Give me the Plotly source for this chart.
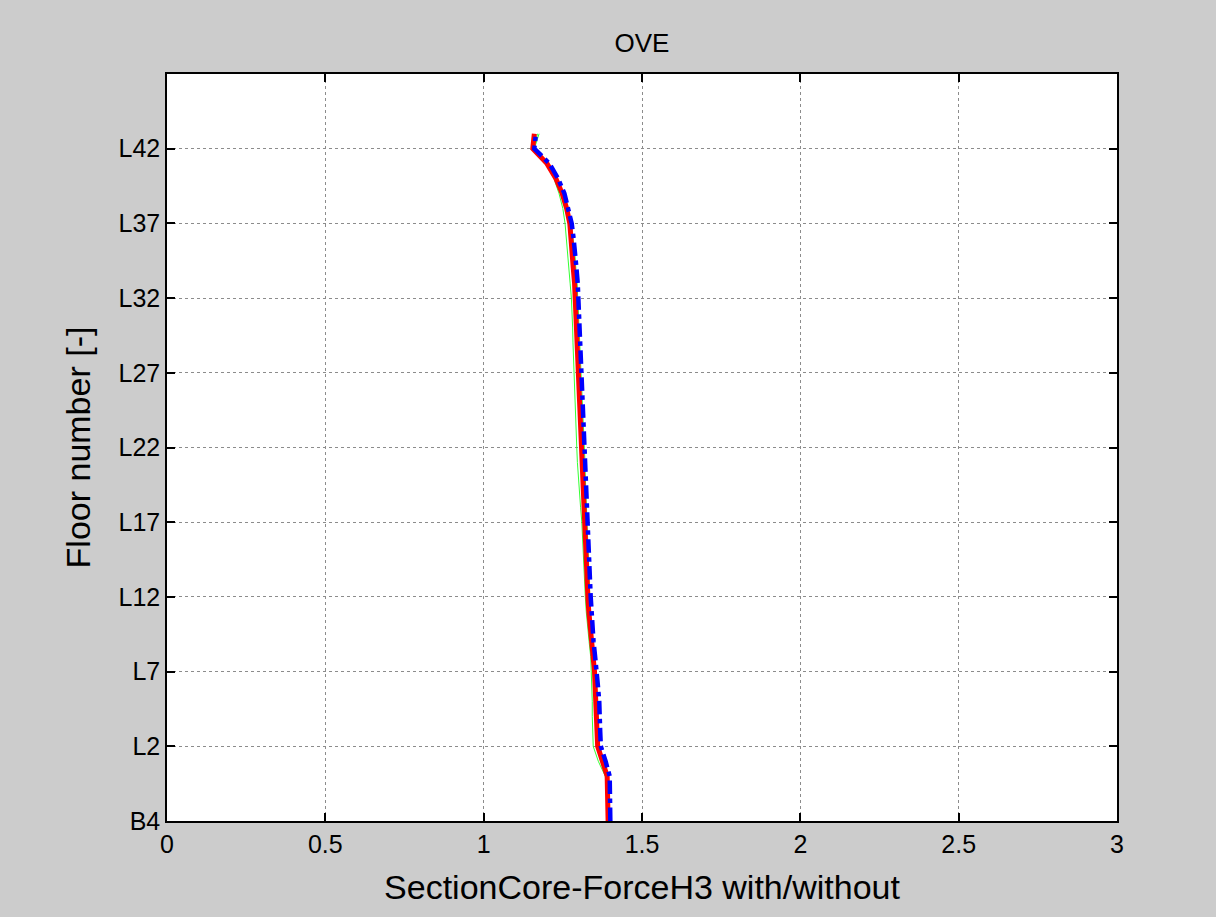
import plotly.graph_objects as go

# floor index 0 = B4 ... 46 = top
floor_idx = list(range(47))
tick_vals = [0, 5, 10, 15, 20, 25, 30, 35, 40, 45]
tick_text = ["B4", "L2", "L7", "L12", "L17", "L22", "L27", "L32", "L37", "L42"]

red_vals = [1.393, 1.393, 1.393, 1.390, 1.375, 1.360, 1.358, 1.357, 1.356, 1.352,
            1.350, 1.345, 1.340, 1.335, 1.332, 1.329, 1.327, 1.325, 1.323, 1.321,
            1.320, 1.318, 1.316, 1.314, 1.312, 1.310, 1.308, 1.307, 1.305, 1.303,
            1.301, 1.298, 1.296, 1.294, 1.292, 1.290, 1.287, 1.283, 1.280, 1.276,
            1.272, 1.262, 1.248, 1.228, 1.200, 1.155, 1.160]

blue_vals = [1.400, 1.400, 1.400, 1.398, 1.385, 1.370, 1.368, 1.367, 1.365, 1.361,
             1.358, 1.352, 1.347, 1.343, 1.340, 1.338, 1.336, 1.334, 1.332, 1.331,
             1.330, 1.328, 1.326, 1.324, 1.322, 1.320, 1.318, 1.317, 1.315, 1.313,
             1.311, 1.309, 1.307, 1.305, 1.303, 1.300, 1.297, 1.293, 1.290, 1.284,
             1.278, 1.268, 1.255, 1.235, 1.208, 1.160, 1.165]

green_vals = [1.390, 1.390, 1.390, 1.384, 1.362, 1.346, 1.344, 1.343, 1.343, 1.342,
              1.341, 1.338, 1.333, 1.328, 1.324, 1.321, 1.319, 1.317, 1.315, 1.312,
              1.310, 1.306, 1.302, 1.298, 1.296, 1.294, 1.292, 1.291, 1.290, 1.288,
              1.286, 1.284, 1.282, 1.281, 1.280, 1.277, 1.273, 1.269, 1.265, 1.261,
              1.257, 1.250, 1.238, 1.222, 1.198, 1.160, 1.175]

green2_vals = [1.396, 1.396, 1.396, 1.394, 1.380, 1.364, 1.362, 1.361, 1.360, 1.356,
               1.354, 1.349, 1.344, 1.340, 1.337, 1.335, 1.333, 1.331, 1.329, 1.327,
               1.326, 1.325, 1.323, 1.321, 1.320, 1.318, 1.316, 1.315, 1.313, 1.311,
               1.309, 1.307, 1.305, 1.303, 1.301, 1.298, 1.295, 1.291, 1.288, 1.282,
               1.276, 1.266, 1.252, 1.232, 1.205, 1.158, 1.170]

fig = go.Figure()
fig.add_trace(go.Scatter(x=green_vals, y=floor_idx, mode="lines",
                         line=dict(color="#33ff33", width=1), showlegend=False))
fig.add_trace(go.Scatter(x=green2_vals, y=floor_idx, mode="lines",
                         line=dict(color="#33ff33", width=1), showlegend=False))
fig.add_trace(go.Scatter(x=red_vals, y=floor_idx, mode="lines",
                         line=dict(color="#ff0000", width=5), showlegend=False))
fig.add_trace(go.Scatter(x=blue_vals, y=floor_idx, mode="lines",
                         line=dict(color="#0000ff", width=4.5, dash="dashdot"), showlegend=False))

font_family = "Liberation Sans, Arial, sans-serif"
fig.update_layout(
    width=1216, height=917,
    margin=dict(l=167, r=99, t=74, b=96),
    paper_bgcolor="#cccccc", plot_bgcolor="#ffffff",
    font=dict(family=font_family, color="#000000"),
    title=dict(text="OVE", x=0.5, xanchor="center", xref="paper",
               y=1 - 43 / 917, yanchor="middle", font=dict(size=26, family=font_family)),
)
fig.update_xaxes(
    range=[0, 3], tickvals=[0, 0.5, 1, 1.5, 2, 2.5, 3],
    ticktext=["0", "0.5", "1", "1.5", "2", "2.5", "3"],
    showline=True, linecolor="#000000", linewidth=1.5, mirror="ticks",
    ticks="inside", ticklen=8, tickcolor="#000000", tickwidth=1.5,
    showgrid=True, gridcolor="#8c8c8c", griddash="dot", gridwidth=1,
    zeroline=False, tickfont=dict(size=25),
    title=dict(text="SectionCore-ForceH3 with/without", font=dict(size=34), standoff=18),
)
fig.update_yaxes(
    range=[0, 50], tickvals=tick_vals, ticktext=tick_text,
    showline=True, linecolor="#000000", linewidth=1.5, mirror="ticks",
    ticks="inside", ticklen=8, tickcolor="#000000", tickwidth=1.5,
    showgrid=True, gridcolor="#8c8c8c", griddash="dot", gridwidth=1,
    zeroline=False, tickfont=dict(size=25),
    title=dict(text="Floor number [-]", font=dict(size=34), standoff=18),
)

fig.write_html("out.html")
